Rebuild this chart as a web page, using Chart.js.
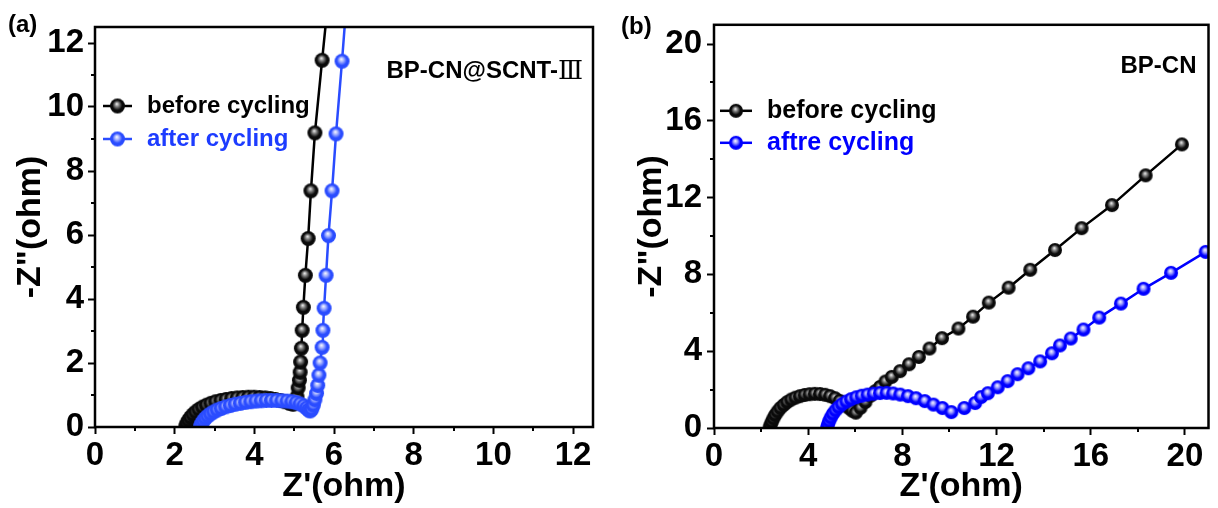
<!DOCTYPE html>
<html>
<head>
<meta charset="utf-8">
<script src="https://cdn.jsdelivr.net/npm/chart.js@4/dist/chart.umd.min.js"></script>
<style>
  html, body { margin: 0; padding: 0; background: #fff; }
  #wrap { position: relative; width: 1218px; height: 508px; overflow: hidden; }
  #wrap canvas { position: absolute; top: 0; }
</style>
</head>
<body>
<div id="wrap">
  <canvas id="panelA" width="609" height="508" style="left:0"></canvas>
  <canvas id="panelB" width="609" height="508" style="left:609px"></canvas>
</div>
<script>
// ---- Panel (a): BP-CN@SCNT-Ⅲ ----
const aTicks = [0, 2, 4, 6, 8, 10, 12];
const aBeforeRe = [2.28, 2.31, 2.35, 2.40, 2.46, 2.53, 2.61, 2.70, 2.80, 2.91, 3.03, 3.16, 3.29, 3.43, 3.57, 3.71, 3.85, 3.99, 4.13, 4.27, 4.40, 4.53, 4.65, 4.77, 4.88, 4.97, 5.03, 5.07, 5.10, 5.13, 5.15, 5.16, 5.18, 5.20, 5.23, 5.28, 5.35, 5.42, 5.52, 5.70, 5.93];
const aBeforeIm = [0.03, 0.12, 0.21, 0.30, 0.39, 0.47, 0.55, 0.62, 0.68, 0.74, 0.79, 0.83, 0.86, 0.89, 0.91, 0.92, 0.93, 0.93, 0.92, 0.91, 0.89, 0.86, 0.83, 0.79, 0.74, 0.71, 0.76, 0.94, 1.22, 1.46, 1.71, 2.03, 2.46, 3.02, 3.74, 4.74, 5.89, 7.38, 9.19, 11.46, 14.30];
const aAfterRe = [2.65, 2.68, 2.72, 2.77, 2.83, 2.90, 2.98, 3.07, 3.17, 3.28, 3.40, 3.52, 3.65, 3.78, 3.91, 4.04, 4.17, 4.30, 4.43, 4.56, 4.69, 4.82, 4.94, 5.05, 5.15, 5.24, 5.31, 5.36, 5.40, 5.44, 5.48, 5.52, 5.56, 5.59, 5.62, 5.65, 5.70, 5.72, 5.75, 5.80, 5.86, 5.95, 6.05, 6.20, 6.37];
const aAfterIm = [0.03, 0.11, 0.19, 0.27, 0.34, 0.41, 0.47, 0.53, 0.58, 0.63, 0.67, 0.71, 0.74, 0.77, 0.79, 0.81, 0.82, 0.83, 0.83, 0.83, 0.82, 0.81, 0.79, 0.76, 0.72, 0.66, 0.59, 0.53, 0.50, 0.55, 0.68, 0.85, 1.05, 1.30, 1.62, 2.00, 2.49, 3.02, 3.71, 4.74, 5.98, 7.38, 9.16, 11.43, 14.20];

// ---- Panel (b): BP-CN ----
const bTicks = [0, 4, 8, 12, 16, 20];
const bBeforeRe = [2.36, 2.40, 2.45, 2.52, 2.60, 2.70, 2.82, 2.96, 3.11, 3.28, 3.46, 3.65, 3.85, 4.06, 4.28, 4.50, 4.72, 4.93, 5.14, 5.34, 5.53, 5.71, 5.87, 6.02, 6.22, 6.43, 6.65, 6.85, 7.05, 7.28, 7.55, 7.90, 8.28, 8.70, 9.15, 9.68, 10.38, 11.00, 11.67, 12.51, 13.43, 14.48, 15.61, 16.90, 18.33, 19.87];
const bBeforeIm = [0.02, 0.16, 0.32, 0.50, 0.68, 0.86, 1.04, 1.20, 1.35, 1.48, 1.58, 1.66, 1.72, 1.76, 1.78, 1.77, 1.73, 1.66, 1.55, 1.41, 1.24, 1.06, 0.90, 0.80, 1.05, 1.35, 1.68, 1.92, 2.14, 2.42, 2.66, 2.96, 3.32, 3.70, 4.14, 4.68, 5.18, 5.80, 6.53, 7.31, 8.24, 9.27, 10.41, 11.61, 13.16, 14.77];
const bAfterRe = [4.80, 4.84, 4.89, 4.96, 5.05, 5.16, 5.29, 5.44, 5.62, 5.82, 6.04, 6.27, 6.52, 6.78, 7.05, 7.33, 7.61, 7.91, 8.24, 8.58, 8.95, 9.32, 9.70, 10.08, 10.63, 11.09, 11.34, 11.63, 12.05, 12.47, 12.89, 13.35, 13.85, 14.35, 14.69, 15.15, 15.69, 16.36, 17.28, 18.24, 19.41, 20.88];
const bAfterIm = [0.02, 0.18, 0.36, 0.55, 0.74, 0.92, 1.09, 1.24, 1.38, 1.50, 1.60, 1.68, 1.74, 1.79, 1.82, 1.83, 1.80, 1.74, 1.66, 1.55, 1.40, 1.22, 1.04, 0.83, 1.04, 1.30, 1.61, 1.81, 2.12, 2.44, 2.80, 3.11, 3.47, 3.89, 4.30, 4.66, 5.13, 5.75, 6.48, 7.25, 8.08, 9.17];

const SANS = "'Liberation Sans', Arial, Helvetica, sans-serif";
const SERIF = "'Liberation Serif', 'DejaVu Serif', 'Noto Sans CJK SC', serif";

// Shaded ball marker with a specular highlight
function sphere(hi, mid, base, r) {
  const s = Math.ceil(r * 2 + 2);
  const c = document.createElement('canvas');
  c.width = c.height = s;
  const g = c.getContext('2d');
  const cx = s / 2, cy = s / 2;
  const grad = g.createRadialGradient(cx - r * 0.1, cy - r * 0.3, 0, cx, cy, r);
  grad.addColorStop(0, hi);
  grad.addColorStop(0.32, mid);
  grad.addColorStop(0.66, base);
  grad.addColorStop(1, base);
  g.fillStyle = grad;
  g.beginPath();
  g.arc(cx, cy, r, 0, Math.PI * 2);
  g.fill();
  return c;
}

function toPoints(re, im) {
  return re.map((x, i) => ({ x: x, y: im[i] }));
}

// Frame, minor ticks, in-plot legend and labels
const decorations = {
  id: 'decorations',
  afterDraw(chart, args, o) {
    const ctx = chart.ctx;
    const a = chart.chartArea;
    const xs = chart.scales.x, ys = chart.scales.y;
    ctx.save();
    // minor ticks halfway between labelled ticks
    ctx.strokeStyle = '#000';
    ctx.lineWidth = 2;
    const minor = (ticks, max) => {
      const step = ticks[1] - ticks[0];
      const out = [];
      for (let v = ticks[0] + step / 2; v < max; v += step) out.push(v);
      return out;
    };
    minor(o.xTicks, xs.max).forEach(v => {
      const px = Math.round(xs.getPixelForValue(v));
      ctx.beginPath(); ctx.moveTo(px, a.bottom); ctx.lineTo(px, a.bottom + o.minorLen); ctx.stroke();
    });
    minor(o.yTicks, ys.max).forEach(v => {
      const py = Math.round(ys.getPixelForValue(v));
      ctx.beginPath(); ctx.moveTo(a.left, py); ctx.lineTo(a.left - o.minorLen, py); ctx.stroke();
    });
    // frame
    ctx.lineWidth = 2.5;
    ctx.strokeRect(a.left, a.top, a.right - a.left, a.bottom - a.top);

    // legend
    ctx.textBaseline = 'middle';
    ctx.textAlign = 'left';
    ctx.font = 'bold ' + o.legendSize + 'px ' + SANS;
    chart.data.datasets.forEach((ds, i) => {
      const y = a.top + o.legendY[i];
      const x0 = a.left + o.legendX0, x1 = a.left + o.legendX1;
      ctx.strokeStyle = ds.borderColor;
      ctx.lineWidth = 2.5;
      ctx.beginPath(); ctx.moveTo(x0, y); ctx.lineTo(x1, y); ctx.stroke();
      const img = ds.pointStyle;
      ctx.drawImage(img, (x0 + x1) / 2 - img.width / 2, y - img.height / 2);
      ctx.fillStyle = ds.labelColor;
      ctx.fillText(ds.label, a.left + o.legendTextX, y);
    });

    // sample name
    ctx.fillStyle = '#000';
    ctx.textAlign = 'right';
    let xr = a.right - o.nameRight;
    const ny = a.top + o.nameY;
    if (o.nameTail) {
      ctx.font = o.nameSize + 2 + 'px ' + SERIF;
      ctx.fillText(o.nameTail, xr, ny + 1);
      xr -= ctx.measureText(o.nameTail).width;
    }
    ctx.font = 'bold ' + o.nameSize + 'px ' + SANS;
    ctx.fillText(o.name, xr, ny);

    // panel tag
    ctx.textAlign = 'left';
    ctx.font = 'bold 24px ' + SANS;
    ctx.fillText(o.tag, o.tagX, o.tagY);
    ctx.restore();
  }
};

function axis(cfg, which) {
  const isX = which === 'x';
  return {
    type: 'linear',
    position: isX ? 'bottom' : 'left',
    min: 0,
    max: isX ? cfg.xMax : cfg.yMax,
    afterBuildTicks: s => { s.ticks = (isX ? cfg.xTicks : cfg.yTicks).map(v => ({ value: v })); },
    afterFit: s => { if (isX) s.height = cfg.xAxisH; else s.width = cfg.yAxisW; },
    border: { display: false },
    grid: { display: true, drawOnChartArea: false, drawTicks: true, tickLength: 7, tickWidth: 2, tickColor: '#000' },
    ticks: {
      autoSkip: false, maxRotation: 0, color: '#000',
      padding: isX ? cfg.xTickPad : cfg.yTickPad,
      font: { family: SANS, size: cfg.tickSize, weight: 'bold' }
    },
    title: {
      display: true, color: '#000',
      text: isX ? "Z'(ohm)" : '-Z"(ohm)',
      font: { family: SANS, size: 34, weight: 'bold' },
      padding: isX ? { top: 0, bottom: cfg.xTitlePad } : { top: cfg.yTitlePad, bottom: 0 }
    }
  };
}

function buildPanel(id, cfg) {
  return new Chart(document.getElementById(id), {
    type: 'scatter',
    data: { datasets: cfg.datasets },
    options: {
      responsive: false,
      animation: false,
      devicePixelRatio: 1,
      layout: { padding: { left: 0, right: cfg.padRight, top: cfg.padTop, bottom: 0 } },
      plugins: { legend: { display: false }, tooltip: { enabled: false }, decorations: cfg.deco },
      scales: { x: axis(cfg, 'x'), y: axis(cfg, 'y') }
    },
    plugins: [decorations]
  });
}

const blackA = sphere('#f6f6f6', '#7a7a7a', '#0a0a0a', 7.5);
const blueA = sphere('#ffffff', '#a0aeff', '#2a4cff', 7.5);
const blackB = sphere('#f6f6f6', '#7a7a7a', '#0a0a0a', 7);
const blueB = sphere('#ffffff', '#9898ff', '#0000ff', 7);

buildPanel('panelA', {
  xMax: 12.5, yMax: 12.5, xTicks: aTicks, yTicks: aTicks,
  padRight: 16, padTop: 27, xAxisH: 81, yAxisW: 95,
  tickSize: 33, xTickPad: 2, yTickPad: 4, xTitlePad: 1, yTitlePad: 10,
  datasets: [
    { label: 'before cycling', data: toPoints(aBeforeRe, aBeforeIm), showLine: true,
      borderColor: '#000000', labelColor: '#000000', borderWidth: 2.5, pointStyle: blackA,
      pointRadius: 7.5, pointHoverRadius: 7.5, order: 1 },
    { label: 'after cycling', data: toPoints(aAfterRe, aAfterIm), showLine: true,
      borderColor: '#2a4cff', labelColor: '#1d3cff', borderWidth: 2.5, pointStyle: blueA,
      pointRadius: 7.5, pointHoverRadius: 7.5, order: 0 }
  ],
  deco: {
    xTicks: aTicks, yTicks: aTicks, minorLen: 4,
    legendY: [79, 112], legendX0: 8, legendX1: 37, legendTextX: 52, legendSize: 24,
    name: 'BP-CN@SCNT-', nameTail: 'Ⅲ', nameSize: 24, nameRight: 10, nameY: 44,
    tag: '(a)', tagX: 8, tagY: 25
  }
});

buildPanel('panelB', {
  xMax: 21, yMax: 21, xTicks: bTicks, yTicks: bTicks,
  padRight: 2, padTop: 24, xAxisH: 80, yAxisW: 105,
  tickSize: 33, xTickPad: 2, yTickPad: 5, xTitlePad: 1, yTitlePad: 22,
  datasets: [
    { label: 'before cycling', data: toPoints(bBeforeRe, bBeforeIm), showLine: true,
      borderColor: '#000000', labelColor: '#000000', borderWidth: 2.5, pointStyle: blackB,
      pointRadius: 7, pointHoverRadius: 7, order: 1 },
    { label: 'aftre cycling', data: toPoints(bAfterRe, bAfterIm), showLine: true,
      borderColor: '#0000ff', labelColor: '#0000ff', borderWidth: 2.5, pointStyle: blueB,
      pointRadius: 7, pointHoverRadius: 7, order: 0 }
  ],
  deco: {
    xTicks: bTicks, yTicks: bTicks, minorLen: 4,
    legendY: [86, 118], legendX0: 6, legendX1: 38, legendTextX: 53, legendSize: 25,
    name: 'BP-CN', nameTail: '', nameSize: 24, nameRight: 12, nameY: 42,
    tag: '(b)', tagX: 12, tagY: 27
  }
});
</script>
</body>
</html>
